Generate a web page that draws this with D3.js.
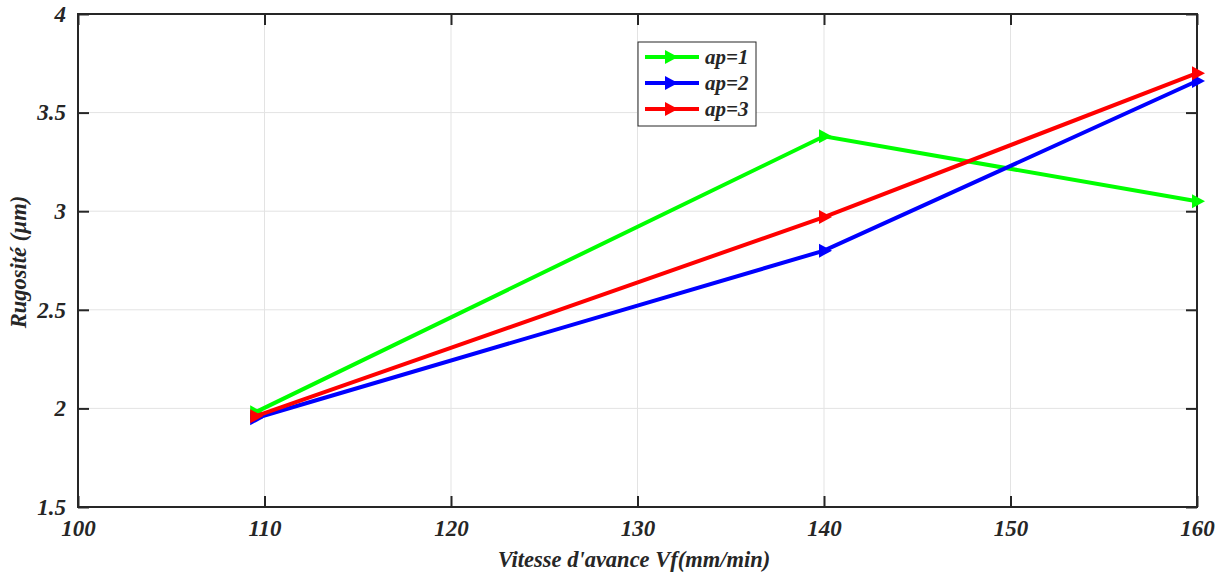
<!DOCTYPE html>
<html>
<head>
<meta charset="utf-8">
<script src="https://cdn.jsdelivr.net/npm/d3@7"></script>
<style>
  html, body { margin: 0; padding: 0; background: #fff; }
  svg text { font-family: "Liberation Serif", "Times New Roman", Times, "DejaVu Serif", serif; font-weight: bold; font-style: italic; fill: #262626; }
</style>
</head>
<body>
<svg id="chart" width="1224" height="576"></svg>
<script>
// Feed rate (mm/min) and measured roughness for each depth of cut
const vf = [109.5, 140, 160];
const ap1 = [1.98, 3.38, 3.05];
const ap2 = [1.95, 2.80, 3.66];
const ap3 = [1.96, 2.97, 3.70];
const seriesNames = ["ap=1", "ap=2", "ap=3"];
const seriesColors = ["#00ff00", "#0000ff", "#ff0000"];
const xTicks = [100, 110, 120, 130, 140, 150, 160];
const yTicks = [1.5, 2, 2.5, 3, 3.5, 4];

const series = [ap1, ap2, ap3].map((vals, i) => ({
  name: seriesNames[i], color: seriesColors[i],
  points: vals.map((v, j) => ({ x: vf[j], y: v }))
}));

const svg = d3.select("#chart");
const m = { left: 78, top: 14, right: 1197, bottom: 507 };

const x = d3.scaleLinear().domain([100, 160]).range([m.left, m.right]);
const y = d3.scaleLinear().domain([1.5, 4]).range([m.bottom, m.top]);

// grid
const grid = svg.append("g");
grid.selectAll(".gx").data(xTicks.slice(1, -1)).join("line")
  .attr("x1", d => x(d)).attr("x2", d => x(d))
  .attr("y1", m.top).attr("y2", m.bottom)
  .attr("stroke", "#e3e3e3").attr("stroke-width", 1);
grid.selectAll(".gy").data(yTicks.slice(1, -1)).join("line")
  .attr("y1", d => y(d)).attr("y2", d => y(d))
  .attr("x1", m.left).attr("x2", m.right)
  .attr("stroke", "#e3e3e3").attr("stroke-width", 1);

// axes with inward ticks, mirrored on top/right
const tickLen = 11;
const axisColor = "#262626";
const bottomAxis = d3.axisBottom(x).tickValues(xTicks).tickSizeInner(-tickLen).tickSizeOuter(0).tickPadding(13);
const leftAxis = d3.axisLeft(y).tickValues(yTicks).tickSizeInner(-tickLen).tickSizeOuter(0).tickPadding(12).tickFormat(d3.format("~g"));
const topAxis = d3.axisTop(x).tickValues(xTicks).tickSizeInner(-tickLen).tickSizeOuter(0).tickFormat("");
const rightAxis = d3.axisRight(y).tickValues(yTicks).tickSizeInner(-tickLen).tickSizeOuter(0).tickFormat("");

function styleAxis(g) {
  g.attr("font-family", null).attr("font-size", null);
  g.select(".domain").remove();
  g.selectAll(".tick line").attr("stroke", axisColor).attr("stroke-width", 2);
  g.selectAll(".tick text").style("font-size", "23px").attr("fill", axisColor);
}
svg.append("g").attr("transform", `translate(0,${m.bottom})`).call(bottomAxis).call(styleAxis);
svg.append("g").attr("transform", `translate(${m.left},0)`).call(leftAxis).call(styleAxis);
svg.append("g").attr("transform", `translate(0,${m.top})`).call(topAxis).call(styleAxis);
svg.append("g").attr("transform", `translate(${m.right},0)`).call(rightAxis).call(styleAxis);

// frame
svg.append("rect").attr("x", m.left).attr("y", m.top)
  .attr("width", m.right - m.left).attr("height", m.bottom - m.top)
  .attr("fill", "none").attr("stroke", axisColor).attr("stroke-width", 2);

// right-pointing triangle marker
const tri = (cx, cy) => `M${cx - 5},${cy - 7}L${cx + 8},${cy}L${cx - 5},${cy + 7}Z`;

const line = d3.line().x(d => x(d.x)).y(d => y(d.y));
const plot = svg.append("g");
series.forEach(s => {
  plot.append("path").datum(s.points).attr("d", line)
    .attr("fill", "none").attr("stroke", s.color).attr("stroke-width", 4)
    .attr("stroke-linejoin", "miter");
  plot.selectAll(null).data(s.points).join("path")
    .attr("d", d => tri(x(d.x), y(d.y))).attr("fill", s.color);
});

// legend
const lg = svg.append("g");
lg.append("rect").attr("x", 638).attr("y", 42).attr("width", 118).attr("height", 84)
  .attr("fill", "#fff").attr("stroke", axisColor).attr("stroke-width", 1);
series.forEach((s, i) => {
  const ly = 57 + i * 26;
  lg.append("line").attr("x1", 645).attr("x2", 699).attr("y1", ly).attr("y2", ly)
    .attr("stroke", s.color).attr("stroke-width", 4);
  lg.append("path").attr("d", tri(670, ly)).attr("fill", s.color);
  lg.append("text").attr("x", 705).attr("y", ly).attr("dy", "0.35em")
    .style("font-size", "21px").text(s.name);
});

// axis titles
svg.append("text").attr("x", 634).attr("y", 567)
  .attr("text-anchor", "middle").style("font-size", "22.5px").text("Vitesse d'avance Vf(mm/min)");
svg.append("text").attr("transform", `translate(26,262) rotate(-90)`)
  .attr("text-anchor", "middle").style("font-size", "22.5px").text("Rugosité (µm)");
</script>
</body>
</html>
